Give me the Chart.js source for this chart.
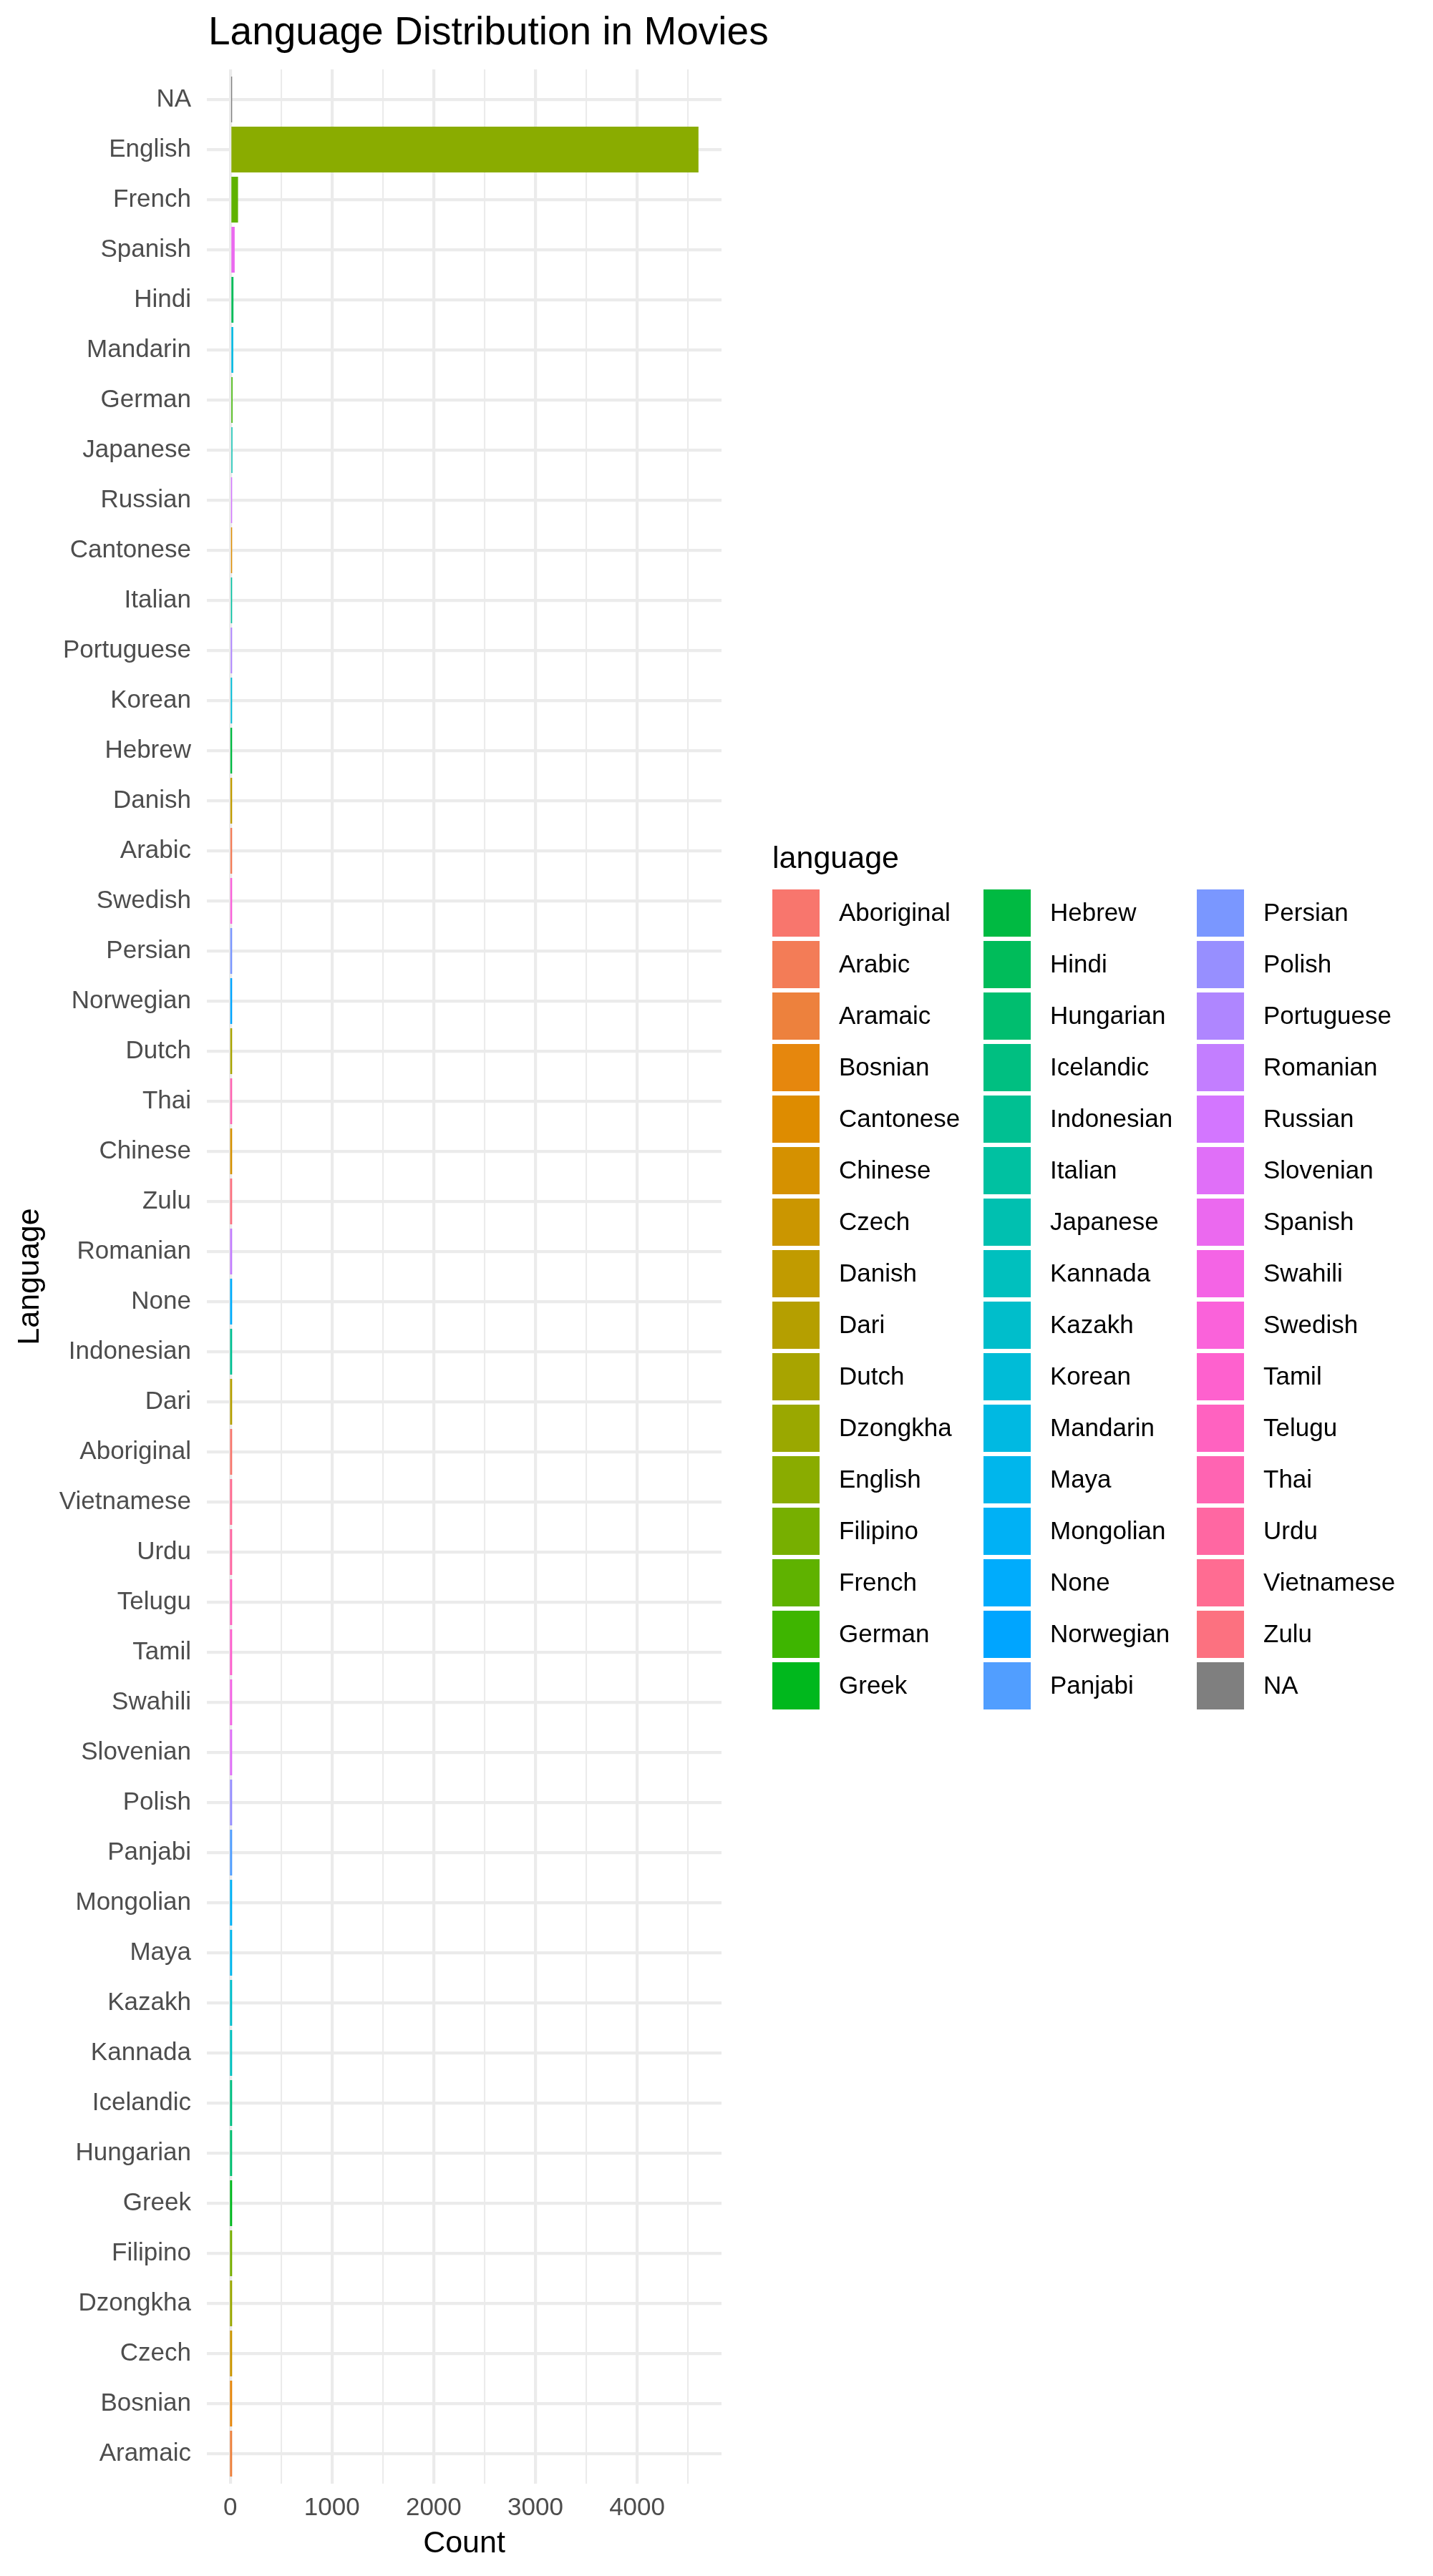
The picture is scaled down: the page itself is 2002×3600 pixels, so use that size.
<!DOCTYPE html>
<html>
<head>
<meta charset="utf-8">
<script src="https://cdn.jsdelivr.net/npm/chart.js@4.4.1/dist/chart.umd.min.js"></script>
<style>
html,body{margin:0;padding:0;background:#ffffff;}
canvas{display:block;}
</style>
</head>
<body>
<canvas id="chart" width="2002" height="3600" style="width:2002px;height:3600px"></canvas>
<script>
// ---- Data (top-to-bottom display order) ----
const languages = ["NA","English","French","Spanish","Hindi","Mandarin","German","Japanese","Russian","Cantonese","Italian","Portuguese","Korean","Hebrew","Danish","Arabic","Swedish","Persian","Norwegian","Dutch","Thai","Chinese","Zulu","Romanian","None","Indonesian","Dari","Aboriginal","Vietnamese","Urdu","Telugu","Tamil","Swahili","Slovenian","Polish","Panjabi","Mongolian","Maya","Kazakh","Kannada","Icelandic","Hungarian","Greek","Filipino","Dzongkha","Czech","Bosnian","Aramaic"];
const counts = [12,4600,73,40,28,26,19,18,11,11,10,8,8,5,5,5,4,4,4,4,3,3,2,2,2,2,2,2,1,1,1,1,1,1,1,1,1,1,1,1,1,1,1,1,1,1,1,1];
const xGridValues = [0,500,1000,1500,2000,2500,3000,3500,4000,4500];
const xMajorStep = 1000;
const titleText = "Language Distribution in Movies";
const xTitle = "Count";
const yTitle = "Language";
const legendTitle = "language";

// ---- ggplot2-like hue palette ----
function hclHex(h, c, l) {
  const WHITE_Y = 100, WHITE_u = 0.1978398, WHITE_v = 0.4683363;
  const hr = h * Math.PI / 180;
  const U = c * Math.cos(hr), V = c * Math.sin(hr);
  const Y = WHITE_Y * (l > 7.999592 ? Math.pow((l + 16) / 116, 3) : l / 903.3);
  const u = U / (13 * l) + WHITE_u, v = V / (13 * l) + WHITE_v;
  const X = 9.0 * Y * u / (4 * v);
  const Z = -X / 3 - 5 * Y + 3 * Y / v;
  const g = t => t > 0.00304 ? 1.055 * Math.pow(t, 1 / 2.4) - 0.055 : 12.92 * t;
  const r = g((3.240479 * X - 1.537150 * Y - 0.498535 * Z) / WHITE_Y);
  const gg = g((-0.969256 * X + 1.875992 * Y + 0.041556 * Z) / WHITE_Y);
  const b = g((0.055648 * X - 0.204043 * Y + 1.057311 * Z) / WHITE_Y);
  const to = x => { x = Math.min(1, Math.max(0, x)); const s = Math.floor(255 * x + 0.5).toString(16).toUpperCase(); return s.length < 2 ? "0" + s : s; };
  return "#" + to(r) + to(gg) + to(b);
}
const levels = languages.filter(l => l !== "NA").slice().sort();
const colorOf = {};
levels.forEach((l, i) => { colorOf[l] = hclHex(15 + i * 360 / levels.length, 100, 65); });
colorOf["NA"] = "#7F7F7F";
const legendItems = levels.concat(["NA"]);

const FF = '"Liberation Sans", Arial, Helvetica, sans-serif';

const annot = {
  id: 'annot',
  afterDraw(chart) {
    const ctx = chart.ctx, a = chart.chartArea;
    ctx.save();
    ctx.fillStyle = '#000000';
    ctx.textBaseline = 'alphabetic';
    ctx.textAlign = 'left';
    ctx.font = '55px ' + FF;
    ctx.fillText(titleText, a.left + 2, 62);
    ctx.font = '43px ' + FF;
    ctx.textAlign = 'center';
    ctx.fillText(xTitle, (a.left + a.right) / 2, 3567);
    ctx.save();
    ctx.translate(54, (a.top + a.bottom) / 2);
    ctx.rotate(-Math.PI / 2);
    ctx.fillText(yTitle, 0, 0);
    ctx.restore();
    // legend
    ctx.textAlign = 'left';
    ctx.font = '43px ' + FF;
    ctx.fillText(legendTitle, 1079, 1213);
    const colX = [1079, 1374, 1672];
    const top0 = 1243, pitch = 72, key = 66, perCol = 16;
    ctx.font = '35px ' + FF;
    ctx.textBaseline = 'middle';
    legendItems.forEach((name, i) => {
      const c = Math.floor(i / perCol), r = i % perCol;
      const x = colX[c], y = top0 + r * pitch;
      ctx.fillStyle = colorOf[name];
      ctx.fillRect(x, y, key, key);
      ctx.fillStyle = '#000000';
      ctx.fillText(name, x + 93, y + key / 2 + 1);
    });
    ctx.restore();
  }
};

new Chart(document.getElementById('chart'), {
  type: 'bar',
  data: {
    datasets: [{
      data: languages.map((l, i) => ({ x: counts[i], y: i })),
      backgroundColor: languages.map(l => colorOf[l]),
      borderWidth: 0,
      inflateAmount: 0.5,
      barPercentage: 0.9,
      categoryPercentage: 1.0
    }]
  },
  options: {
    responsive: false,
    animation: false,
    devicePixelRatio: 1,
    indexAxis: 'y',
    layout: { padding: { top: 97, right: 994, bottom: 0, left: 0 } },
    plugins: { legend: { display: false }, tooltip: { enabled: false }, title: { display: false } },
    scales: {
      x: {
        type: 'linear', position: 'bottom', bounds: 'data', offset: false,
        min: -230, max: 4830,
        afterBuildTicks: s => { s.ticks = xGridValues.map(v => ({ value: v })); },
        afterFit: s => { s.height = 129; },
        grid: { color: '#EBEBEB', offset: false, lineWidth: ctx => (ctx.tick && ctx.tick.value % xMajorStep === 0) ? 4.2 : 2.1, drawTicks: false },
        border: { display: false },
        ticks: {
          autoSkip: false, maxRotation: 0, minRotation: 0, padding: 13, color: '#4D4D4D',
          font: { family: FF, size: 35 },
          callback: v => (v % xMajorStep === 0) ? String(v) : ''
        }
      },
      y: {
        type: 'linear', position: 'left', bounds: 'data', reverse: true, offset: false,
        min: -0.6, max: languages.length - 0.4,
        afterBuildTicks: s => { s.ticks = languages.map((l, i) => ({ value: i })); },
        afterFit: s => { s.width = 289; },
        grid: { color: '#EBEBEB', offset: false, lineWidth: 4.2, drawTicks: false },
        border: { display: false },
        ticks: {
          autoSkip: false, padding: 22, color: '#4D4D4D',
          font: { family: FF, size: 35 },
          callback: v => languages[v]
        }
      }
    }
  },
  plugins: [annot]
});
</script>
</body>
</html>
